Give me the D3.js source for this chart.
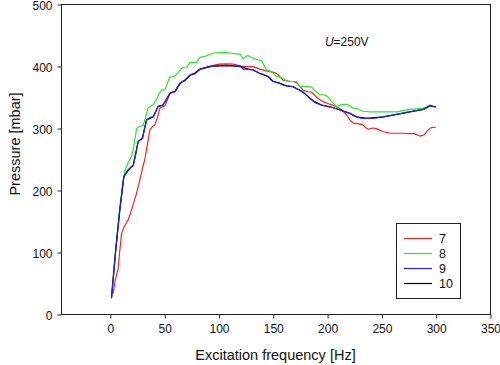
<!DOCTYPE html>
<html>
<head>
<meta charset="utf-8">
<script src="https://cdn.jsdelivr.net/npm/d3@7"></script>
<style>
  html, body { margin: 0; padding: 0; background: #fff; }
  svg { display: block; font-family: "Liberation Sans", Arial, sans-serif; }
</style>
</head>
<body>
<svg id="chart" width="500" height="365"></svg>
<script>
// ---- data ----
const xTicks = [0, 50, 100, 150, 200, 250, 300, 350];
const yTicks = [0, 100, 200, 300, 400, 500];
const seriesNames = ["7", "8", "9", "10"];
const seriesColors = ["#ff2020", "#22ee22", "#2020ff", "#000000"];

const s7 = [[3,33],[5,55],[7.7,74],[9,100],[10.8,130],[13,140],[16.9,152],[20,168],[24.6,195],[27.6,216],[30,235],[32,248],[34,268],[36.8,297],[39,302],[41.4,305],[44,318],[46,332],[48,334],[50.7,336],[53,345],[55.3,356],[58,358],[60,359],[62,365],[64.5,371],[67,375],[69,377],[71,380],[73.7,385],[76,387],[78,388],[80,391],[83,395],[88,398],[95,401],[101,403],[107,403.5],[113.6,403],[118,401],[122.8,399],[127,399],[132,399],[135,397],[138,395],[142,393],[147,391],[150,390],[153.5,388],[157,382],[159.6,377],[162.7,376],[166,375],[168.8,375],[172,373],[175,367],[178,361],[182.5,358.5],[185.8,358],[189,352],[193,346],[196.4,342.5],[200,340],[205,337],[209,334],[213,330],[218,321],[221,313],[224,308],[228,307],[233,305],[236,300],[238,298],[242,300],[245.6,299],[248,297],[251.7,294],[255,293],[258,291.5],[264,291.5],[270,291.5],[276,291],[280,291],[283,289],[285.5,287],[288,288],[290,290],[292,295],[294.7,299.5],[297,301],[300,301]];

const s8 = [[1.5,28],[5,100],[9,170],[12,215],[14,232],[17,245],[20,254],[22,270],[24.6,299],[27,302],[30.7,304],[33,318],[35,332],[38,336],[40,338],[43,346],[45.5,356],[47.6,361],[50.7,362],[53,372],[55,382],[58,383],[60,384],[63,390],[66,396],[68,398],[70.6,398],[73.7,405],[77,406],[80,406],[83,414],[88,416],[92,419],[96,421],[101,421.5],[106,422],[110.5,421],[115,420],[120,419],[122.8,412],[127,417],[132,412],[136,410],[139.7,409],[144,394],[149,391],[153.5,383],[156,382],[159.6,380],[163,376],[166,375],[172,375],[175,367],[178,367],[182,366.6],[186,366],[189,360],[193,354],[198,353],[201,350],[204,343],[209,334],[212,337],[215,338],[219,338],[224,332],[228,331],[233,327],[240,326],[248,326],[256,326],[264,326],[270,328],[276,330],[282,331],[288.6,332],[292,334],[294.7,337],[297,335],[300,334]];

const s9 = [[1.5,25],[5,95],[9,165],[12.9,221],[16,231],[18.4,235],[21.5,239],[24,259],[26,278],[28,281],[30,283],[32,300],[33.8,313],[37,317],[40,318],[42,326],[44.5,335],[47,336],[49,337],[52,346],[55.3,356],[58,358],[60,358.5],[62,365],[64.5,372],[67,375],[69,376],[71,380],[73.7,385],[76,387],[78,387],[80,390],[83,394.7],[88,397],[92,399],[100,400],[107.5,400.5],[114,400],[120,399],[122.8,395],[127,395],[132,393.5],[135,391],[138,388],[142,386],[145.8,383],[148,378],[150.4,375],[153,374],[156.6,372],[160,369],[162.7,368],[166,367],[168.8,366.6],[172,363],[175,361],[178,358],[181,353],[184,348],[187,344],[190,340],[195,337],[199.6,335.5],[205,333],[212,329],[217,326],[221,323.7],[224,320],[227,318],[231,316],[236.5,315.6],[244,316],[251.7,318],[258,320],[264,322],[270,324],[276,326],[282,328],[288.6,330],[292,333],[294.7,336],[297,335],[300,334]];

const s10 = [[1.5,26],[5,96],[9,166],[12.9,222],[18.4,235],[21.5,240],[26,278],[30,284],[33.8,313],[40,318],[44.5,335],[49,337],[55.3,356],[60,359],[64.5,372],[69,377],[73.7,385],[78,388],[83,395],[92,399],[100,400.5],[107.5,401],[120,399.5],[127,395],[132,393.5],[138,388],[145.8,383],[150.4,375],[156.6,372],[162.7,368],[168.8,366.6],[175,361],[181,353],[187,344],[195,337],[205,333],[212,329],[221,323.7],[227,318],[236.5,315.6],[251.7,318],[264,322],[276,326],[288.6,330],[294.7,336],[300,334]];

const seriesData = [s7, s8, s10, s9]; // draw order: black under blue
const drawColors = ["#ff2020", "#22ee22", "#000000", "#2020ff"];

// ---- layout ----
const svg = d3.select("#chart");
const L = 61, R = 490, T = 4, B = 314;
const x = d3.scaleLinear().domain([-45, 350]).range([L, R]);
const y = d3.scaleLinear().domain([0, 500]).range([B, T]);

// frame
const frameColor = "#222";
svg.append("rect")
  .attr("x", L + 0.5).attr("y", T + 0.5)
  .attr("width", R - L).attr("height", B - T)
  .attr("fill", "none").attr("stroke", frameColor).attr("stroke-width", 1);

// axes
const xAxis = d3.axisBottom(x).tickValues(xTicks).tickSize(4).tickPadding(6).tickFormat(d3.format("d"));
const yAxis = d3.axisLeft(y).tickValues(yTicks).tickSize(4).tickPadding(5).tickFormat(d3.format("d"));

const gx = svg.append("g").attr("transform", `translate(0.5,${B + 0.5})`).call(xAxis);
const gy = svg.append("g").attr("transform", `translate(${L + 0.5},0.5)`).call(yAxis);
[gx, gy].forEach(g => {
  g.select(".domain").remove();
  g.selectAll(".tick line").attr("stroke", frameColor);
  g.selectAll(".tick text").attr("fill", "#111").style("font-size", "12px")
    .style("font-family", '"Liberation Sans", Arial, sans-serif');
});
gy.selectAll(".tick text").attr("dy", "0.42em");

// lines
const line = d3.line().x(d => x(d[0])).y(d => y(d[1]));
svg.append("g").selectAll("path").data(seriesData).join("path")
  .attr("d", line)
  .attr("fill", "none")
  .attr("stroke", (d, i) => drawColors[i])
  .attr("stroke-width", 1.2)
  .attr("stroke-linejoin", "round");

// axis titles
svg.append("text").attr("x", (L + R) / 2).attr("y", 360)
  .attr("text-anchor", "middle").style("font-size", "14.5px").attr("fill", "#111")
  .text("Excitation frequency [Hz]");
svg.append("text").attr("transform", `translate(20,${(B + T) / 2 - 15}) rotate(-90)`)
  .attr("text-anchor", "middle").style("font-size", "14.5px").attr("fill", "#111")
  .text("Pressure [mbar]");

// annotation
const ann = svg.append("text").attr("x", x(198)).attr("y", 46)
  .style("font-size", "12px").attr("fill", "#111");
ann.append("tspan").style("font-style", "italic").text("U");
ann.append("tspan").text("=250V");

// legend
const lg = svg.append("g");
lg.append("rect").attr("x", 396.5).attr("y", 223.5).attr("width", 64).attr("height", 75)
  .attr("fill", "#fff").attr("stroke", frameColor).attr("stroke-width", 1);
seriesNames.forEach((name, i) => {
  const yy = 238.5 + i * 15;
  lg.append("line").attr("x1", 404).attr("x2", 432).attr("y1", yy).attr("y2", yy)
    .attr("stroke", seriesColors[i]).attr("stroke-width", 1.2);
  lg.append("text").attr("x", 439).attr("y", yy + 4.3)
    .style("font-size", "12.5px").attr("fill", "#111").text(name);
});
</script>
</body>
</html>
